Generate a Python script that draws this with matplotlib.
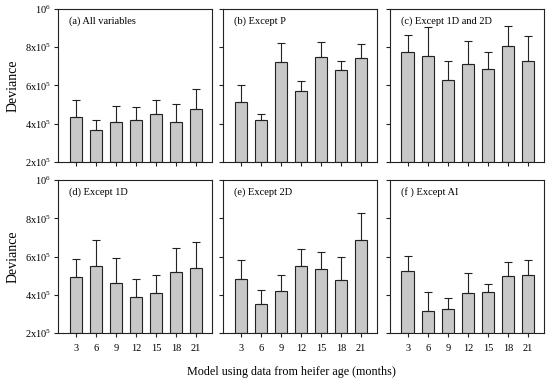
import numpy as np
import matplotlib
matplotlib.use("Agg")
import matplotlib.pyplot as plt

plt.rcParams['font.family'] = ['Liberation Serif', 'DejaVu Serif']
plt.rcParams['mathtext.fontset'] = 'custom'
plt.rcParams['mathtext.rm'] = 'Liberation Serif'
plt.rcParams['mathtext.it'] = 'Liberation Serif:italic'

ages = [3, 6, 9, 12, 15, 18, 21]
titles = ['(a) All variables', '(b) Except P', '(c) Except 1D and 2D',
          '(d) Except 1D', '(e) Except 2D', "(f ) Except AI"]

# deviance means (x1e5) and upper error bar tops (x1e5)
dev_a = [4.37, 3.66, 4.09, 4.21, 4.53, 4.11, 4.79]
top_a = [5.23, 4.21, 4.95, 4.90, 5.23, 5.05, 5.80]
dev_b = [5.12, 4.21, 7.25, 5.72, 7.48, 6.80, 7.43]
top_b = [6.05, 4.53, 8.21, 6.24, 8.25, 7.27, 8.16]
dev_c = [7.76, 7.53, 6.29, 7.13, 6.88, 8.06, 7.29]
top_c = [8.66, 9.05, 7.27, 8.32, 7.77, 9.12, 8.58]
dev_d = [4.92, 5.49, 4.62, 3.88, 4.09, 5.18, 5.39]
top_d = [5.86, 6.85, 5.91, 4.81, 5.05, 6.47, 6.75]
dev_e = [4.81, 3.50, 4.18, 5.49, 5.33, 4.76, 6.89]
top_e = [5.80, 4.23, 5.05, 6.41, 6.26, 5.96, 8.27]
dev_f = [5.23, 3.17, 3.24, 4.09, 4.13, 4.97, 5.02]
top_f = [6.05, 4.16, 3.85, 5.13, 4.58, 5.72, 5.82]

devs = [dev_a, dev_b, dev_c, dev_d, dev_e, dev_f]
tops = [top_a, top_b, top_c, top_d, top_e, top_f]

yticks = [2, 4, 6, 8, 10]
ytick_labels = [r'2x10$^5$', r'4x10$^5$', r'6x10$^5$', r'8x10$^5$', r'10$^6$']

fig = plt.figure(figsize=(5.5, 3.82), dpi=100)
lefts = [0.1055, 0.4055, 0.709]
bottoms = [0.576, 0.128]
w, h = 0.28, 0.4005

x = np.arange(1, 8)
for i in range(6):
    r, c = divmod(i, 3)
    ax = fig.add_axes([lefts[c], bottoms[r], w, h])
    d = np.array(devs[i])
    err = np.array(tops[i]) - d
    ax.bar(x, d - 2, bottom=2, width=0.62, color='#c8c8c8',
           edgecolor='#222222', linewidth=0.8, zorder=2)
    ax.errorbar(x, d, yerr=[np.zeros(7), err], fmt='none', ecolor='#222222',
                elinewidth=0.8, capsize=3, capthick=0.8, zorder=3)
    ax.set_xlim(0.115, 7.8)
    ax.set_ylim(2, 10)
    ax.set_yticks(yticks)
    ax.set_xticks(x)
    ax.tick_params(direction='out', length=3, width=0.8, color='#222222',
                   labelsize=7.5, pad=2)
    if c == 0:
        ax.set_yticklabels(ytick_labels)
        ax.set_ylabel('Deviance', fontsize=10, labelpad=4)
    else:
        ax.set_yticklabels([])
    if r == 1:
        ax.set_xticklabels([str(a) for a in ages])
        ax.tick_params(axis='x', pad=5)
    else:
        ax.set_xticklabels([])
    for s in ax.spines.values():
        s.set_linewidth(0.8)
        s.set_color('#222222')
    ax.text(0.07, 0.92, titles[i], transform=ax.transAxes, fontsize=7.5,
            va='center', ha='left')

fig.text(0.53, 0.027, 'Model using data from heifer age (months)',
         ha='center', va='center', fontsize=8.7)

fig.savefig('out.png', dpi=100)
